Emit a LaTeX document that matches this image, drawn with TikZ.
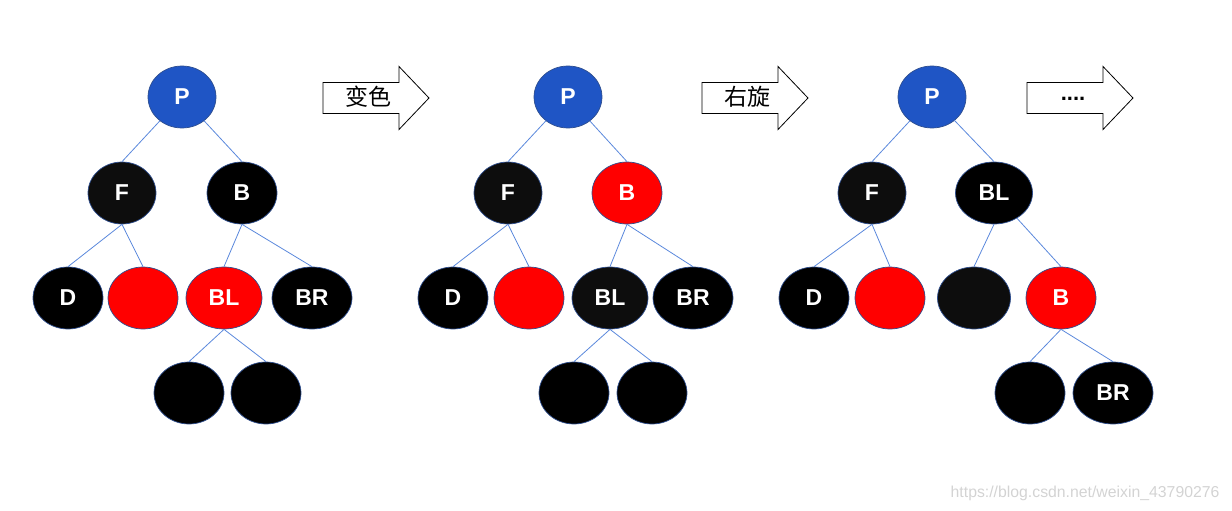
\documentclass[tikz,border=0pt]{standalone}
\usepackage{fontspec}
\setmainfont{Liberation Sans}
\newfontfamily\cjk{Noto Sans CJK SC}
\usetikzlibrary{shapes.geometric}
\definecolor{rootblue}{HTML}{1F55C5}
\definecolor{edgeblue}{HTML}{5A88DC}
\definecolor{rimblue}{HTML}{2F4F8F}
\definecolor{softblack}{HTML}{0D0D0D}
\definecolor{markgray}{HTML}{D3D3D3}

\begin{document}
\begin{tikzpicture}[x=1pt, y=-1pt,
    tnode/.style={ellipse, draw=rimblue, line width=0.7pt, text=white, inner sep=0pt,
        minimum width=70pt, minimum height=62pt, font=\bfseries\fontsize{23}{23}\selectfont},
    root/.style={tnode, fill=rootblue, minimum width=68pt},
    blk/.style={tnode, fill=black},
    dark/.style={tnode, fill=softblack},
    rd/.style={tnode, fill=red},
    edge/.style={draw=edgeblue, line width=0.8pt},
    stepbox/.style={draw=black, line width=0.8pt, fill=white}]
    \useasboundingbox (0,0) rectangle (1232,511);

    \node (Pa) [root] at (182,97) {P};
    \node (Fa) [dark, minimum width=68pt] at (122,193) {F};
    \node (Ba) [blk] at (242,193) {B};
    \node (Da) [blk] at (68,298) {D};
    \node (Ra) [rd] at (143,298) {};
    \node (BLa) [rd, minimum width=76pt] at (224,298) {BL};
    \node (BRa) [blk, minimum width=80pt] at (312,298) {BR};
    \node (Na) [blk] at (189,393) {};
    \node (Ma) [blk] at (266,393) {};

    \draw[edge] (Pa) -- (Fa.north);
    \draw[edge] (Pa) -- (Ba.north);
    \draw[edge] (Fa.south) -- (Da.north);
    \draw[edge] (Fa.south) -- (Ra.north);
    \draw[edge] (Ba.south) -- (BLa.north);
    \draw[edge] (Ba.south) -- (BRa.north);
    \draw[edge] (BLa.south) -- (Na.north);
    \draw[edge] (BLa.south) -- (Ma.north);

    \node (Pb) [root] at (568,97) {P};
    \node (Fb) [dark, minimum width=68pt] at (508,193) {F};
    \node (Bb) [rd] at (627,193) {B};
    \node (Db) [blk] at (453,298) {D};
    \node (Rb) [rd] at (529,298) {};
    \node (BLb) [dark, minimum width=76pt] at (610,298) {BL};
    \node (BRb) [blk, minimum width=80pt] at (693,298) {BR};
    \node (Nb) [blk] at (574,393) {};
    \node (Mb) [blk] at (652,393) {};

    \draw[edge] (Pb) -- (Fb.north);
    \draw[edge] (Pb) -- (Bb.north);
    \draw[edge] (Fb.south) -- (Db.north);
    \draw[edge] (Fb.south) -- (Rb.north);
    \draw[edge] (Bb.south) -- (BLb.north);
    \draw[edge] (Bb.south) -- (BRb.north);
    \draw[edge] (BLb.south) -- (Nb.north);
    \draw[edge] (BLb.south) -- (Mb.north);

    \node (Pc) [root] at (932,97) {P};
    \node (Fc) [dark, minimum width=68pt] at (872,193) {F};
    \node (BLc) [blk, minimum width=77pt] at (994,193) {BL};
    \node (Dc) [blk] at (814,298) {D};
    \node (Rc) [rd] at (890,298) {};
    \node (Nc) [dark, minimum width=73pt] at (974,298) {};
    \node (Bc) [rd] at (1061,298) {B};
    \node (Mc) [blk] at (1030,393) {};
    \node (BRc) [blk, minimum width=80pt] at (1113,393) {BR};

    \draw[edge] (Pc) -- (Fc.north);
    \draw[edge] (Pc) -- (BLc.north);
    \draw[edge] (Fc.south) -- (Dc.north);
    \draw[edge] (Fc.south) -- (Rc.north);
    \draw[edge] (BLc.south) -- (Nc.north);
    \draw[edge] (BLc) -- (Bc.north);
    \draw[edge] (Bc.south) -- (Mc.north);
    \draw[edge] (Bc.south) -- (BRc.north);

    \foreach \ax in {323,702,1027}
        \draw[stepbox] (\ax,82.5) -- (\ax+76,82.5) -- (\ax+76,66.5) -- (\ax+106,98)
            -- (\ax+76,129.5) -- (\ax+76,113.5) -- (\ax,113.5) -- cycle;

    \node (recolor) [font=\cjk\fontsize{23}{23}\selectfont] at (368,97) {变色};
    \node (rotate) [font=\cjk\fontsize{23}{23}\selectfont] at (747,97) {右旋};
    \node (more) [font=\bfseries\fontsize{22}{22}\selectfont] at (1073,99) {....};

    \node (mark) [anchor=east, text=markgray, font=\fontsize{15.8}{15.8}\selectfont]
        at (1223,493) {https://blog.csdn.net/weixin\_43790276};
\end{tikzpicture}
\end{document}
